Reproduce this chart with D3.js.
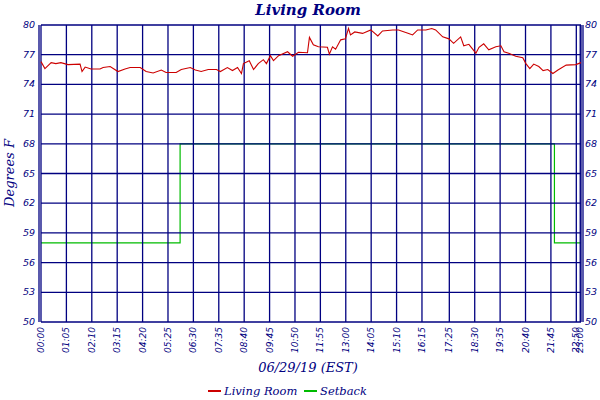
<!DOCTYPE html>
<html><head><meta charset="utf-8">
<script src="https://cdn.jsdelivr.net/npm/d3@7"></script>
<style>body{margin:0;background:#fff}</style></head>
<body><svg id="c" width="600" height="400"></svg>
<script>
const tempMinutes=[0,10,26,38,51,69,100,105,113,128,151,159,177,197,215,228,254,269,287,308,320,346,359,382,395,410,428,449,459,477,490,503,513,518,533,544,556,569,577,587,595,608,631,644,659,682,687,697,710,733,738,746,754,767,779,787,792,803,823,844,862,874,900,915,941,951,964,985,1000,1010,1028,1044,1056,1074,1082,1095,1113,1121,1133,1146,1164,1177,1185,1197,1215,1233,1241,1251,1261,1274,1285,1297,1310,1323,1344,1369,1382];
const tempValues=[76.3,75.6,76.2,76.1,76.2,76.0,76.05,75.3,75.75,75.55,75.55,75.7,75.8,75.3,75.55,75.7,75.7,75.3,75.15,75.45,75.2,75.2,75.5,75.7,75.45,75.3,75.5,75.5,75.3,75.7,75.4,75.7,75.1,76.1,76.4,75.5,76.1,76.5,76.1,76.9,76.4,76.9,77.3,76.85,77.25,77.2,78.75,78.0,77.8,77.75,77.05,77.8,77.55,78.5,78.6,79.65,79.0,79.3,79.15,79.5,78.9,79.4,79.5,79.5,79.15,79.0,79.5,79.5,79.65,79.5,78.8,78.6,78.15,78.8,77.9,78.05,77.15,77.75,78.1,77.5,77.8,77.9,77.3,77.15,76.85,76.7,76.1,75.6,76.05,75.8,75.4,75.5,75.1,75.45,75.95,76.0,76.2];
const setbackMinutes=[0,356,1314,1382];
const setbackValues=[58,68,58,58];
const xTickMinutes=[0,65,130,195,260,325,390,455,520,585,650,715,780,845,910,975,1045,1110,1175,1240,1305,1370,1380];
const xTickLabels=["00:00","01:05","02:10","03:15","04:20","05:25","06:30","07:35","08:40","09:45","10:50","11:55","13:00","14:05","15:10","16:15","17:25","18:30","19:35","20:40","21:45","22:50","23:00"];
const yTicks=[50,53,56,59,62,65,68,71,74,77,80];
const navy="#000080";
const svg=d3.select("#c");
const L=41,R=581,T=25,B=322;
const x=d3.scaleLinear().domain([0,1382]).range([L,R]);
const y=d3.scaleLinear().domain([50,80]).range([B,T]);
const g=svg.append("g");
// setback first (under grid)
const sb=[];setbackMinutes.forEach((m,i)=>sb.push([m,setbackValues[i]]));
g.append("path").datum(sb).attr("fill","none").attr("stroke","#00bb00").attr("stroke-width",1.2)
 .attr("d",d3.line().x(d=>x(d[0])).y(d=>y(d[1])).curve(d3.curveStepAfter));
// grid
g.selectAll(".hg").data(yTicks).join("line").attr("x1",L).attr("x2",R).attr("y1",d=>y(d)).attr("y2",d=>y(d)).attr("stroke",navy).attr("stroke-width",1.3);
g.selectAll(".vg").data(xTickMinutes).join("line").attr("x1",d=>x(d)).attr("x2",d=>x(d)).attr("y1",T).attr("y2",B).attr("stroke",navy).attr("stroke-width",1.3);
g.append("line").attr("x1",L-2).attr("x2",L-2).attr("y1",T).attr("y2",B).attr("stroke",navy).attr("stroke-width",1.3);
g.append("line").attr("x1",R).attr("x2",R).attr("y1",T).attr("y2",B).attr("stroke",navy).attr("stroke-width",1.3);
g.append("line").attr("x1",R+2).attr("x2",R+2).attr("y1",T).attr("y2",B).attr("stroke",navy).attr("stroke-width",1.3);
// temp line
const tp=tempMinutes.map((m,i)=>[m,tempValues[i]]);
g.append("path").datum(tp).attr("fill","none").attr("stroke","#cc0000").attr("stroke-width",1.1)
 .attr("d",d3.line().x(d=>x(d[0])).y(d=>y(d[1])));
// y labels
const ft="'DejaVu Sans',sans-serif";
g.selectAll(".yl").data(yTicks).join("text").attr("x",L-6).attr("y",d=>y(d)+3).attr("text-anchor","end")
 .attr("font-family",ft).attr("font-style","italic").attr("font-size",9.5).attr("fill",navy).text(d=>d);
g.selectAll(".yr").data(yTicks).join("text").attr("x",R+4).attr("y",d=>y(d)+3).attr("text-anchor","start")
 .attr("font-family",ft).attr("font-style","italic").attr("font-size",9.5).attr("fill",navy).text(d=>d);
// x labels
g.selectAll(".xl").data(xTickMinutes).join("text")
 .attr("transform",d=>`translate(${x(d)+3},${B+5}) rotate(-90)`).attr("text-anchor","end")
 .attr("font-family",ft).attr("font-style","italic").attr("font-size",9).attr("fill",navy).text((d,i)=>xTickLabels[i]);
const sf="'DejaVu Serif',serif";
svg.append("text").attr("x",308).attr("y",15).attr("text-anchor","middle").attr("font-family",sf).attr("font-style","italic").attr("font-weight","bold").attr("font-size",15).attr("fill",navy).text("Living Room");
svg.append("text").attr("x",308).attr("y",372).attr("text-anchor","middle").attr("font-family",sf).attr("font-style","italic").attr("font-size",13).attr("fill",navy).text("06/29/19 (EST)");
svg.append("text").attr("transform","translate(14,173) rotate(-90)").attr("text-anchor","middle").attr("font-family",sf).attr("font-style","italic").attr("font-size",13).attr("fill",navy).text("Degrees F");
const leg=[["Living Room","#cc0000",208],["Setback","#00bb00",304]];
leg.forEach(([t,c,lx])=>{
 svg.append("line").attr("x1",lx).attr("x2",lx+13).attr("y1",391).attr("y2",391).attr("stroke",c).attr("stroke-width",2);
 svg.append("text").attr("x",lx+16).attr("y",395).attr("font-family",sf).attr("font-style","italic").attr("font-size",11.5).attr("fill",navy).text(t);
});
</script></body></html>
